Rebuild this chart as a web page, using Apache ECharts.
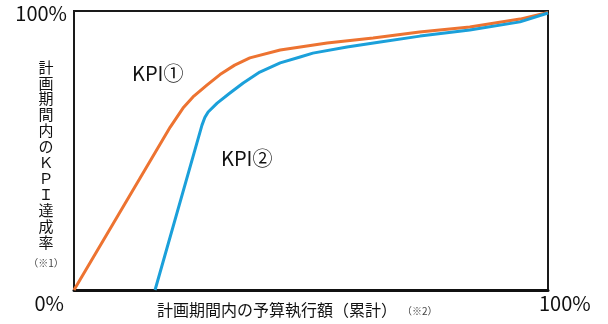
<!DOCTYPE html>
<html>
<head>
<meta charset="utf-8">
<script src="https://cdn.jsdelivr.net/npm/echarts@6/dist/echarts.min.js"></script>
<style>
  html, body { margin: 0; padding: 0; background: #fff; }
  #chart { width: 608px; height: 324px; }
</style>
</head>
<body>
<div id="chart"></div>
<script>
// 予算執行額(%) と KPI達成率(%)
var kpi1 = [[0, 0], [20.3, 58.4], [23.0, 65.2], [25.1, 69.2], [28.1, 73.5], [30.8, 77.2],
            [33.9, 80.6], [37.1, 83.2], [43.5, 86.0], [53.4, 88.5], [63.1, 90.3],
            [72.9, 92.5], [83.5, 94.3], [94.1, 97.1], [100, 99.5]];
var kpi2 = [[17.1, 0], [27.0, 59.1], [27.6, 61.8], [28.3, 63.8], [30.2, 67.0], [32.9, 70.6],
            [35.7, 74.2], [39.2, 78.1], [43.5, 81.4], [47.7, 83.5], [50.4, 84.9], [57.6, 87.1],
            [64.6, 88.9], [73.0, 91.0], [83.5, 93.2], [94.1, 96.1], [100, 99.3]];
var seriesNames = ['KPI①', 'KPI②'];
var tickLabels = ['0%', '100%'];
var xTitle = '計画期間内の予算執行額（累計）';
var yTitle = '計画期間内のＫＰＩ達成率';

var FONT = '"Noto Sans CJK JP", "Noto Sans", sans-serif';

var chart = echarts.init(document.getElementById('chart'));

var option = {
    animation: false,
    grid: {
        show: true,
        left: 74, right: 60, top: 11, bottom: 34,
        borderColor: '#1a1a1a',
        borderWidth: 2,
        backgroundColor: 'transparent'
    },
    xAxis: {
        type: 'value', min: 0, max: 100,
        axisLine: { show: true, onZero: false, lineStyle: { color: '#111', width: 3 } },
        axisTick: { show: false },
        axisLabel: { show: false },
        splitLine: { show: false }
    },
    yAxis: {
        type: 'value', min: 0, max: 100,
        axisLine: { show: true, lineStyle: { color: '#1a1a1a', width: 2 } },
        axisTick: { show: false },
        axisLabel: { show: false },
        splitLine: { show: false }
    },
    series: [
        {
            name: seriesNames[0],
            type: 'line',
            data: kpi1,
            smooth: false,
            symbol: 'none',
            lineStyle: { color: '#ED7331', width: 3, join: 'round' }
        },
        {
            name: seriesNames[1],
            type: 'line',
            data: kpi2,
            smooth: false,
            symbol: 'none',
            lineStyle: { color: '#1BA0DA', width: 3, join: 'round' }
        }
    ],
    graphic: [
        // 目盛りラベル
        { type: 'text', right: 608 - 67, top: 3,
          style: { text: tickLabels[1], font: '20px ' + FONT, fill: '#111' } },
        { type: 'text', right: 608 - 64, top: 293,
          style: { text: tickLabels[0], font: '20px ' + FONT, fill: '#111' } },
        { type: 'text', left: 539, top: 293,
          style: { text: tickLabels[1], font: '20px ' + FONT, fill: '#111' } },
        // 系列ラベル
        { type: 'text', left: 132, top: 63,
          style: { text: seriesNames[0], font: '20px ' + FONT, fill: '#111' } },
        { type: 'text', left: 221, top: 148,
          style: { text: seriesNames[1], font: '20px ' + FONT, fill: '#111' } },
        // 軸タイトル
        { type: 'text', left: 157, top: 302,
          style: { text: xTitle, font: '16px ' + FONT, fill: '#111' } },
        { type: 'text', left: 402, top: 306,
          style: { text: '（※2）', font: '10px ' + FONT, fill: '#444' } },
        { type: 'text', x: 46, y: 59,
          style: { text: yTitle.split('').join('\n'), font: '15px ' + FONT, lineHeight: 15.9,
                   fill: '#111', align: 'center', verticalAlign: 'top' } },
        { type: 'text', x: 46, y: 263,
          style: { text: '（※1）', font: '10px ' + FONT, fill: '#444',
                   align: 'center', verticalAlign: 'middle' } }
    ]
};

chart.setOption(option);
</script>
</body>
</html>
